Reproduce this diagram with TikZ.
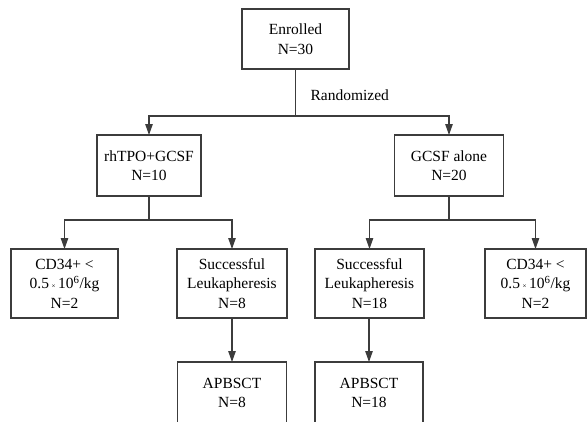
\documentclass[tikz,border=0pt]{standalone}
\usepackage{fontspec}
\setmainfont{Liberation Serif}
\usepackage{tikz}
\usetikzlibrary{arrows.meta, positioning}
\definecolor{lineclr}{RGB}{60,60,60}

\begin{document}
\begin{tikzpicture}[x=1pt, y=-1pt,
  box/.style={draw=lineclr, line width=1.1pt, inner sep=0pt, outer sep=0pt, align=center, font=\fontsize{15.5}{19.5}\selectfont},
  conn/.style={draw=lineclr, line width=1.1pt},
  arr/.style={conn, -{Triangle[length=11pt, width=7.5pt]}}]
\useasboundingbox (0,0) rectangle (587,421);
\clip (0,0) rectangle (587,421);
\node[box, minimum width=107pt, minimum height=60pt] (enrol) at (295.5,39) {Enrolled\\N=30};
\node[box, minimum width=104pt, minimum height=61pt] (rh) at (149,165.5) {rhTPO+GCSF\\N=10};
\node[box, minimum width=109pt, minimum height=61pt] (gcsf) at (449,165.5) {GCSF alone\\N=20};
\node[box, minimum width=107pt, minimum height=69pt] (cdl) at (64.5,283.5) {CD34+ <\\0.5\,{\scriptsize ×}\,10\textsuperscript{6}/kg\\N=2};
\node[box, minimum width=110pt, minimum height=69pt] (sucl) at (232,283.5) {Successful\\Leukapheresis\\N=8};
\node[box, minimum width=109pt, minimum height=69pt] (sucr) at (369.5,283.5) {Successful\\Leukapheresis\\N=18};
\node[box, minimum width=101pt, minimum height=69pt] (cdr) at (535.5,283.5) {CD34+ <\\0.5\,{\scriptsize ×}\,10\textsuperscript{6}/kg\\N=2};
\node[box, minimum width=109pt, minimum height=62pt] (apl) at (232,393) {APBSCT\\N=8};
\node[box, minimum width=108pt, minimum height=62pt] (apr) at (369,393) {APBSCT\\N=18};
\coordinate (split) at (295.5,116);
\coordinate (rhsplit) at (149,220);
\coordinate (gcsfsplit) at (449,220);
\draw[conn] (enrol) -- (split);
\node[anchor=west, font=\fontsize{15.5}{19.5}\selectfont] (rand) at (307,95) {Randomized};
\draw[arr] (split) -| (rh);
\draw[arr] (split) -| (gcsf);
\draw[conn] (rh) -- (rhsplit);
\draw[arr] (rhsplit) -| (cdl);
\draw[arr] (rhsplit) -| (sucl);
\draw[conn] (gcsf) -- (gcsfsplit);
\draw[arr] (gcsfsplit) -| (sucr);
\draw[arr] (gcsfsplit) -| (cdr);
\draw[arr] (sucl) -- (apl);
\draw[arr] (sucr.south -| apr) -- (apr);
\end{tikzpicture}
\end{document}
